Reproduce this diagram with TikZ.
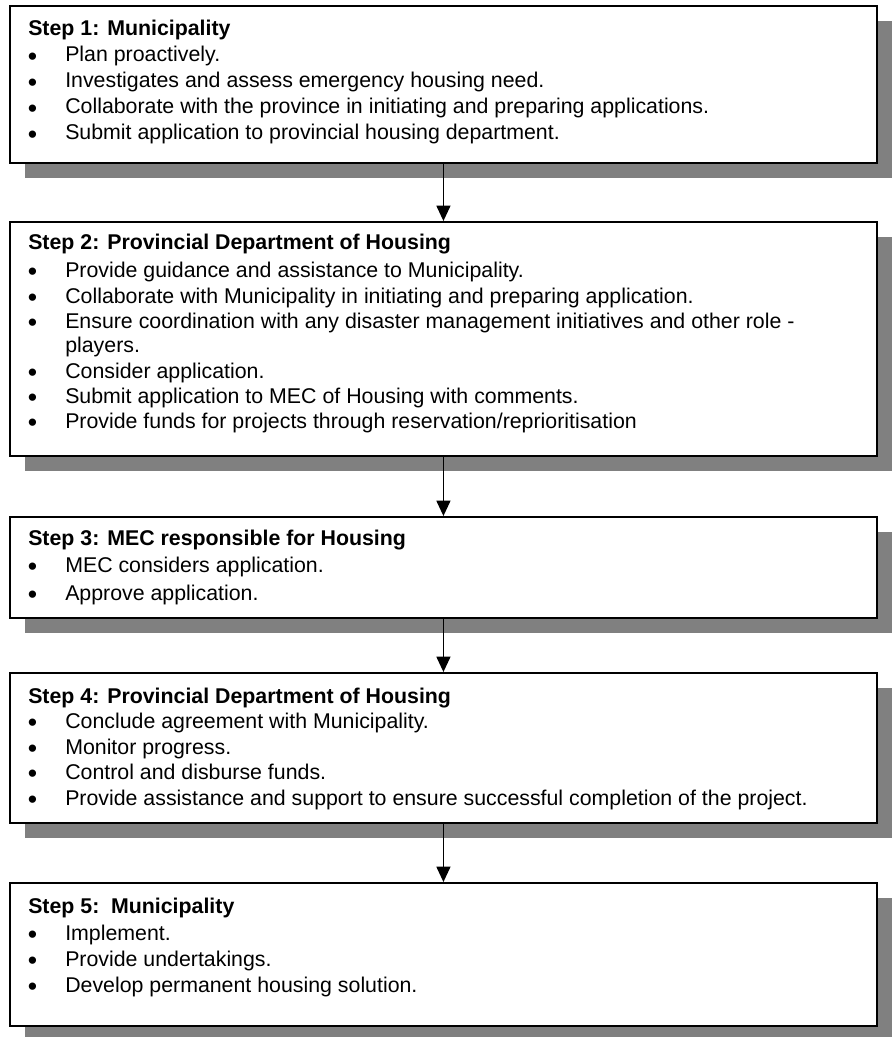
\documentclass[tikz,border=0pt]{standalone}
\usepackage{fontspec}
\setmainfont{Liberation Sans}
\usetikzlibrary{arrows.meta,shadows}
\definecolor{shadowgray}{HTML}{808080}
\begin{document}
\begin{tikzpicture}[x=0.75pt,y=-0.75pt,
  font=\fontsize{16}{19}\selectfont,
  stepbox/.style={draw=black,line width=1.4pt,fill=white,anchor=north west,
    minimum width=650.25pt,inner sep=0pt,
    drop shadow={shadow xshift=11.25pt,shadow yshift=-11.25pt,fill=shadowgray,opacity=1}},
  title/.style={anchor=base west,inner sep=0pt,font=\fontsize{16}{19}\selectfont\bfseries},
  item/.style={anchor=base west,inner sep=0pt},
  bul/.style={anchor=base,inner sep=0pt,font=\fontsize{20}{20}\selectfont},
  arr/.style={line width=1pt,-{Triangle[length=11.5pt,width=10.5pt]}}]
\useasboundingbox (0,0) rectangle (891,1037);
\newcommand\bitem[3]{\node[bul] (#1b) at (32.5,#2+3.5) {\textbullet};\node[item] (#1) at (65,#2) {#3};}
% boxes
\node[stepbox,minimum height=117.75pt] (s1) at (9,5) {};
\node[stepbox,minimum height=175.5pt] (s2) at (9,221) {};
\node[stepbox,minimum height=75.75pt] (s3) at (9,516) {};
\node[stepbox,minimum height=112.5pt] (s4) at (9,672) {};
\node[stepbox,minimum height=107.25pt] (s5) at (9,882) {};
% connectors
\draw[arr] (s1.south) -- (s2.north);
\draw[arr] (s2.south) -- (s3.north);
\draw[arr] (s3.south) -- (s4.north);
\draw[arr] (s4.south) -- (s5.north);
% step 1
\node[title] (t1) at (28,36) {Step 1: Municipality};
\bitem{a1}{62}{Plan proactively.}
\bitem{a2}{88}{Investigates and assess emergency housing need.}
\bitem{a3}{114}{Collaborate with the province in initiating and preparing applications.}
\bitem{a4}{140}{Submit application to provincial housing department.}
% step 2
\node[title] (t2) at (28,250) {Step 2: Provincial Department of Housing};
\bitem{b1}{277}{Provide guidance and assistance to Municipality.}
\bitem{b2}{303}{Collaborate with Municipality in initiating and preparing application.}
\bitem{b3}{328}{Ensure coordination with any disaster management initiatives and other role -}
\node[item] (b3c) at (65,352) {players.};
\bitem{b4}{378}{Consider application.}
\bitem{b5}{403}{Submit application to MEC of Housing with comments.}
\bitem{b6}{428}{Provide funds for projects through reservation/reprioritisation}
% step 3
\node[title] (t3) at (28,545) {Step 3: MEC responsible for Housing};
\bitem{c1}{572}{MEC considers application.}
\bitem{c2}{600}{Approve application.}
% step 4
\node[title] (t4) at (28,703) {Step 4: Provincial Department of Housing};
\bitem{d1}{728}{Conclude agreement with Municipality.}
\bitem{d2}{754}{Monitor progress.}
\bitem{d3}{779}{Control and disburse funds.}
\bitem{d4}{805}{Provide assistance and support to ensure successful completion of the project.}
% step 5
\node[title] (t5) at (28,913) {Step 5:\hspace{0.55em}Municipality};
\bitem{e1}{940}{Implement.}
\bitem{e2}{966}{Provide undertakings.}
\bitem{e3}{992}{Develop permanent housing solution.}
\end{tikzpicture}
\end{document}
